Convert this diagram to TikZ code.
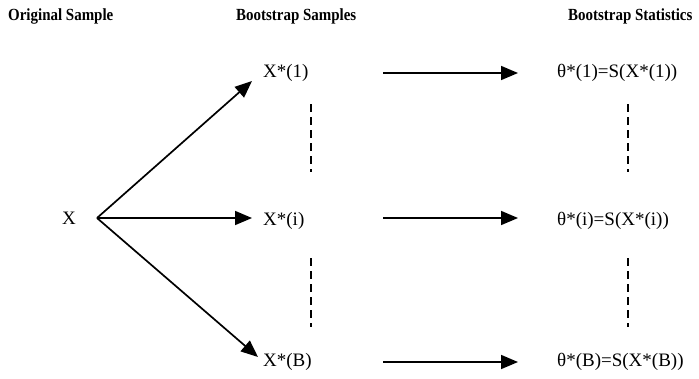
\documentclass[tikz,border=0pt]{standalone}
\usepackage{fontspec}
\setmainfont{Liberation Serif}
\newfontfamily\headfont[FakeStretch=0.88]{Liberation Serif}
\usetikzlibrary{arrows.meta,positioning}
\tikzset{
  arr/.style={-{Triangle[length=17pt,width=14pt]},line width=1.7pt},
  ellip/.style={line width=1.5pt,dash pattern=on 8pt off 5pt},
  head/.style={font=\fontsize{17}{20}\headfont\bfseries,inner sep=0pt},
  lbl/.style={font=\fontsize{19}{21}\selectfont,inner sep=0pt},
  stat/.style={font=\fontsize{19}{21}\selectfont,inner sep=0pt}
}
\begin{document}
\begin{tikzpicture}[x=1pt,y=-1pt]
\useasboundingbox (0,0) rectangle (699,378);

% column titles
\node[head,anchor=west] (horig) at (8,16) {Original Sample};
\node[head,anchor=west] (hsamp) at (236,16) {Bootstrap Samples};
\node[head,anchor=west] (hstat) at (568,16) {Bootstrap Statistics};

% original sample and bootstrap samples
\node[lbl,anchor=west] (x) at (62,218) {X};
\node[lbl,anchor=west] (s1) at (263,73) {X*(1)};
\node[lbl,anchor=west] (si) at (263,221) {X*(i)};
\node[lbl,anchor=west] (sb) at (263,362) {X*(B)};

% statistics
\node[stat,anchor=west] (t1) at (557,73) {θ*(1)=S(X*(1))};
\node[stat,anchor=west] (ti) at (557,221) {θ*(i)=S(X*(i))};
\node[stat,anchor=west] (tb) at (557,362) {θ*(B)=S(X*(B))};

\coordinate (xout) at (97,218);
\coordinate (s1in) at (252,81);
\coordinate (siin) at (252,218);
\coordinate (sbin) at (258,357);
\coordinate (from) at (383,0);
\coordinate (to) at (518,0);

\draw[arr] (xout) -- (s1in);
\draw[arr] (xout) -- (siin);
\draw[arr] (xout) -- (sbin);

\draw[arr] (from |- s1) -- (to |- s1);
\draw[arr] (from |- siin) -- (to |- siin);
\draw[arr] (from |- sb) -- (to |- sb);

% vertical dots
\draw[ellip] (311,104) -- (311,172);
\draw[ellip] (311,258) -- (311,327);
\draw[ellip] (628,104) -- (628,172);
\draw[ellip] (628,258) -- (628,327);

\end{tikzpicture}
\end{document}
